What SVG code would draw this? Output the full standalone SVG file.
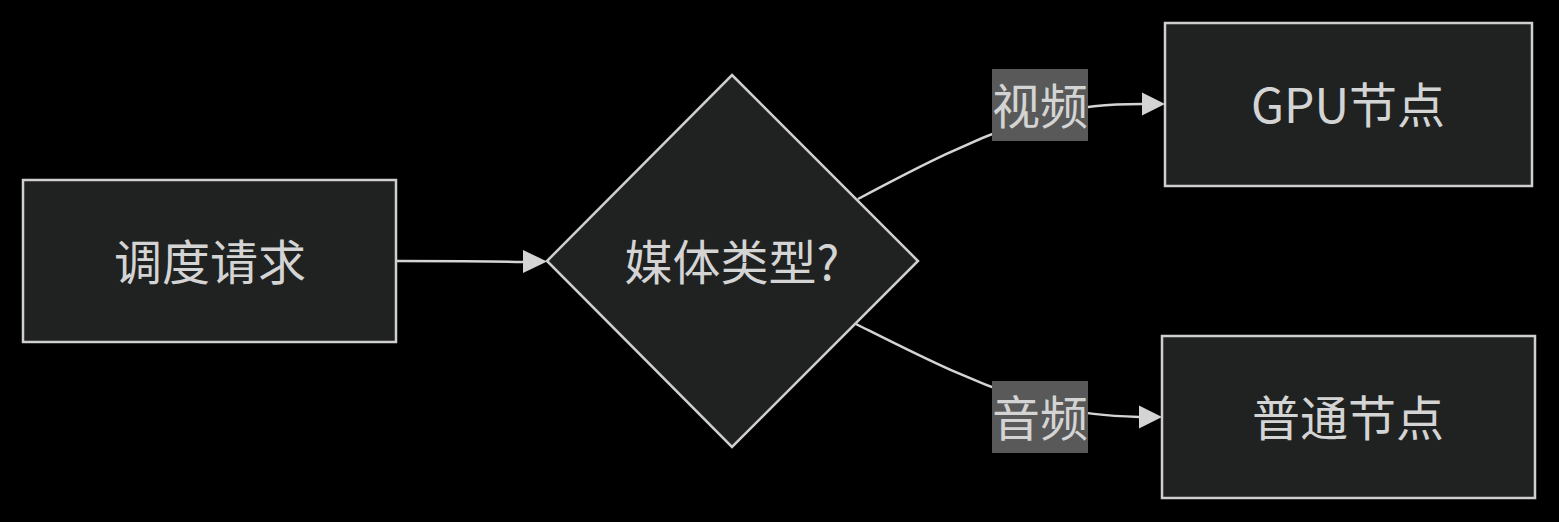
<svg xmlns="http://www.w3.org/2000/svg" width="1559" height="522" viewBox="0 0 1559 522">
<style>
.node{fill:#202221;stroke:#cfcfcf;stroke-width:2.5}
.t{font-family:"Noto Sans CJK SC","Noto Sans",sans-serif;font-size:48px;fill:#d4d4d4;text-anchor:middle;dominant-baseline:central}
.edge{fill:none;stroke:#d4d4d4;stroke-width:2.5}
.lbl{fill:#595959}
.head{fill:#d4d4d4}
</style>
<rect width="1559" height="522" fill="#000"/>
<g id="edges">
<path class="edge" d="M396,261 C460,261 490,261 523,262" />
<path class="head" d="M523,250 L547,261.5 L523,273 z"/>
<path class="edge" d="M858,199 C920,166 970,140 1040,116 C1080,106 1110,104 1142,104"/>
<path class="head" d="M1142,92.5 L1165,104 L1142,115.5 z"/>
<path class="edge" d="M856,324 C920,356 970,382 1040,404 C1080,414 1110,416 1139,417"/>
<path class="head" d="M1139,405.5 L1162,417 L1139,428.5 z"/>
<g id="label-video"><rect class="lbl" x="992" y="69" width="96" height="72"/><text class="t" x="1040" y="103">视频</text></g>
<g id="label-audio"><rect class="lbl" x="992" y="381" width="96" height="72"/><text class="t" x="1040" y="415">音频</text></g>
</g>
<g id="request"><rect class="node" x="23" y="180" width="373" height="162"/><text class="t" x="210" y="259">调度请求</text></g>
<g id="decision"><polygon class="node" points="732,75 918,261 732,447 547,261"/><text class="t" x="732" y="259">媒体类型?</text></g>
<g id="gpu"><rect class="node" x="1165" y="23" width="367" height="163"/><text class="t" x="1348" y="102">GPU节点</text></g>
<g id="normal"><rect class="node" x="1162" y="336" width="373" height="162"/><text class="t" x="1348" y="415">普通节点</text></g>
</svg>
